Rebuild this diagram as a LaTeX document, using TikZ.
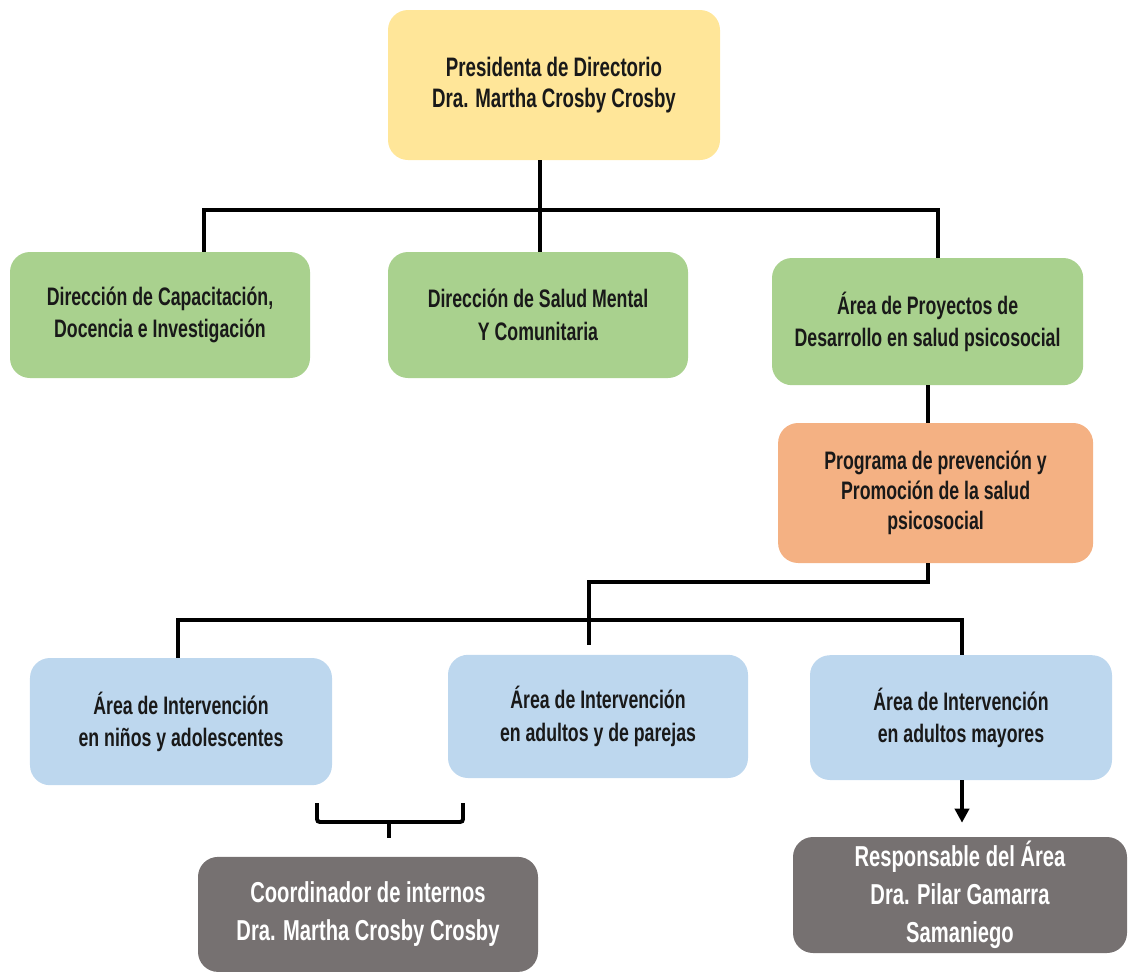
\documentclass[tikz,border=0pt]{standalone}
\usepackage{fontspec}
\newfontfamily\orgfont{Liberation Sans}[FakeStretch=0.7]
\usepackage{xcolor}
\usepackage{tikz}
\usetikzlibrary{arrows.meta, positioning, calc}

\definecolor{presYellow}{HTML}{FFE699}
\definecolor{dirGreen}{HTML}{A9D18E}
\definecolor{progOrange}{HTML}{F4B183}
\definecolor{areaBlue}{HTML}{BDD7EE}
\definecolor{respGray}{HTML}{767171}

\begin{document}
\begin{tikzpicture}[
        auto,
        block/.style = {rectangle, rounded corners=0.5cm, align=center, text=black!90, inner sep=0pt, minimum width=7.5cm, minimum height=3.15cm, font=\orgfont\bfseries\fontsize{18}{23}\selectfont},
        pres_block/.style = {block, fill=presYellow, minimum width=8.3cm, minimum height=3.75cm, font=\orgfont\bfseries\fontsize{19}{22}\selectfont},
        dir_block/.style = {block, fill=dirGreen},
        prog_block/.style = {block, fill=progOrange, minimum width=7.875cm, minimum height=3.5cm, font=\orgfont\bfseries\fontsize{18}{21.5}\selectfont},
        area_block/.style = {block, fill=areaBlue, font=\orgfont\bfseries\fontsize{18}{23}\selectfont},
        resp_block/.style = {block, fill=respGray, text=white, font=\orgfont\bfseries\fontsize{20.5}{27}\selectfont},
        line/.style = {draw, line width=2.8pt},
        arrow_line/.style = {draw, line width=2.8pt, -{Triangle[width=10pt, length=10pt]}}
    ]
    \useasboundingbox (0,0) rectangle (28.225,-24.3);

    % Nodes
    \node [pres_block] (pres) at (13.85,-2.125) {Presidenta de Directorio\\Dra. Martha Crosby Crosby};

    \node [dir_block] (dci) at (4.0,-7.875) {Dirección de Capacitación,\\Docencia e Investigación};
    \node [dir_block] (dsm) at (13.45,-7.875) {Dirección de Salud Mental\\Y Comunitaria};
    \node [dir_block, minimum width=7.78cm, minimum height=3.18cm] (dap) at (23.19,-8.04) {Área de Proyectos de\\Desarrollo en salud psicosocial};

    \node [prog_block] (prog) at (23.39,-12.325) {Programa de prevención y\\Promoción de la salud\\psicosocial};

    \node [area_block, minimum width=7.55cm, minimum height=3.18cm] (ainf) at (4.525,-18.04) {Área de Intervención\\en niños y adolescentes};
    \node [area_block, minimum height=3.08cm] (aadu) at (14.95,-17.91) {Área de Intervención\\en adultos y de parejas};
    \node [area_block, minimum width=7.55cm, minimum height=3.12cm] (amay) at (24.025,-17.94) {Área de Intervención\\en adultos mayores};

    \node [resp_block, minimum width=8.5cm, minimum height=2.875cm] (coord) at (9.2,-22.86) {Coordinador de internos\\Dra. Martha Crosby Crosby};
    \node [resp_block, minimum width=8.35cm, minimum height=2.9cm] (resp) at (24.0,-22.375) {Responsable del Área\\Dra. Pilar Gamarra\\Samaniego};

    % Junctions
    \coordinate (busA) at (13.5,-5.25);
    \coordinate (busL) at (5.1,-5.25);
    \coordinate (busR) at (23.45,-5.25);
    \coordinate (progElbow) at (14.725,-14.55);
    \coordinate (progStub) at (14.725,-16.125);
    \coordinate (busBL) at (4.45,-15.5);
    \coordinate (busBR) at (24.05,-15.5);
    \coordinate (brL) at (7.925,-20.075);
    \coordinate (brM) at (9.725,-20.55);
    \coordinate (brR) at (11.575,-20.075);
    \coordinate (brTip) at (9.725,-20.95);

    % Edges
    \path [line] (pres.south -| busA) -- (dsm.north -| busA);
    \path [line] (busL |- dci.north) |- (busR) -- (busR |- dap.north);
    \path [line] (dap.south) -- (dap.south |- prog.north);
    \path [line] (dap.south |- prog.south) |- (progElbow) -- (progStub);
    \path [line] (busBL |- ainf.north) |- (busBR) -- (busBR |- amay.north);
    \path [arrow_line, shorten >=0.35cm] (amay.south -| busBR) -- (resp.north -| busBR);

    % Bracket to the coordinator
    \path [line, rounded corners=2pt] (brL) |- (brM) -| (brR);
    \path [line] (brM) -- (brTip);

\end{tikzpicture}
\end{document}
